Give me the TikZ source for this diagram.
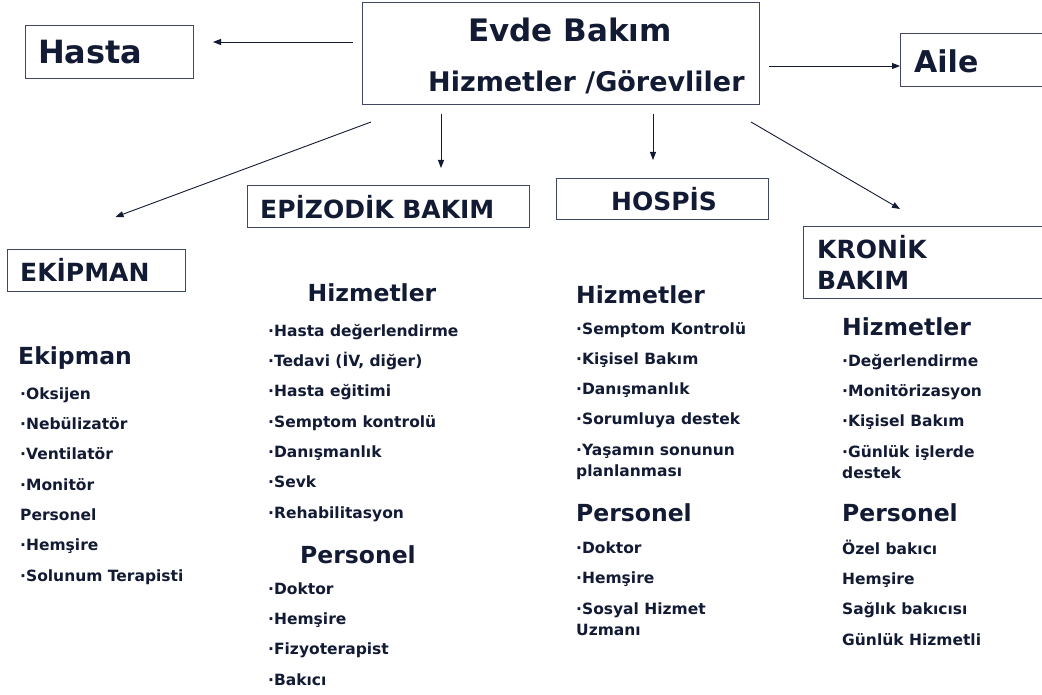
\documentclass[tikz,border=0pt]{standalone}
\usepackage{fontspec}
\setmainfont{DejaVu Sans}
\usetikzlibrary{arrows.meta}
\definecolor{ink}{RGB}{18,26,52}
\definecolor{frame}{RGB}{62,72,100}

\begin{document}
\begin{tikzpicture}[x=1pt, y=-1pt,
    box/.style = {draw=frame, line width=1pt, inner sep=0pt, anchor=north west},
    lab/.style = {text=ink, inner sep=0pt, anchor=west},
    big/.style = {lab, font=\fontsize{31}{36}\selectfont\bfseries},
    head/.style = {lab, font=\fontsize{25}{31}\selectfont\bfseries},
    sub/.style = {lab, font=\fontsize{23.5}{28}\selectfont\bfseries},
    items/.style = {text=ink, inner sep=0pt, anchor=base west, align=left, font=\fontsize{15.5}{30.3}\selectfont\bfseries},
    arr/.style = {draw=ink, line width=0.9pt, -{Triangle[length=8pt, width=6pt]}}]
            \useasboundingbox (0,0) rectangle (1042,695);

            \node[box, minimum width=397pt, minimum height=102pt] (evde) at (362,2) {};
            \node[box, minimum width=168pt, minimum height=53pt] (hasta) at (25,25) {};
            \node[box, minimum width=150pt, minimum height=53pt] (aile) at (900,33) {};
            \node[box, minimum width=282pt, minimum height=42pt] (epi) at (247,185) {};
            \node[box, minimum width=212pt, minimum height=41pt] (hosp) at (556,178) {};
            \node[box, minimum width=250pt, minimum height=72pt] (kron) at (803,226) {};
            \node[box, minimum width=178pt, minimum height=42pt] (ekip) at (7,249) {};

            \node[big, anchor=center] (evdet) at (570,30) {Evde Bakım};
            \node[sub, font=\fontsize{27}{32}\selectfont\bfseries] (gorev) at (428,82) {Hizmetler /Görevliler};
            \node[big, font=\fontsize{32}{36}\selectfont\bfseries] (hastat) at (38,52) {Hasta};
            \node[big, font=\fontsize{30}{36}\selectfont\bfseries] (ailet) at (914,61) {Aile};
            \node[head] (epit) at (260,207) {EPİZODİK BAKIM};
            \node[head, anchor=center] (hospt) at (664,199) {HOSPİS};
            \node[head, align=left] (kront) at (817,262) {KRONİK\\BAKIM};
            \node[head] (ekipt) at (20,270) {EKİPMAN};

            \draw[arr] ([shift={(-9,40)}]evde.north west) -- ([shift={(19,17)}]hasta.north east);
            \draw[arr] ([shift={(9,64)}]evde.north east) -- ([shift={(0,33)}]aile.north west);
            \draw[arr] ([shift={(9,17)}]evde.south west) -- ([shift={(19,-32)}]ekip.north);
            \draw[arr] ([shift={(79,9)}]evde.south west) -- ([shift={(194,-17)}]epi.north west);
            \draw[arr] ([shift={(291,9)}]evde.south west) -- ([shift={(97,-18)}]hosp.north west);
            \draw[arr] ([shift={(-9,17)}]evde.south east) -- ([shift={(97,-17)}]kron.north west);

            \node[sub] (ekiph) at (18,358) {Ekipman};
            \node[items] (ekipl) at (20,581) {·Oksijen\\·Nebülizatör\\·Ventilatör\\·Monitör\\Personel\\·Hemşire\\·Solunum Terapisti};

            \node[sub, anchor=center] (epih) at (372,293) {Hizmetler};
            \node[items] (epil) at (268,518) {·Hasta değerlendirme\\·Tedavi (İV, diğer)\\·Hasta eğitimi\\·Semptom kontrolü\\·Danışmanlık\\·Sevk\\·Rehabilitasyon};
            \node[sub, anchor=center] (epip) at (358,555) {Personel};
            \node[items] (epipl) at (268,685) {·Doktor\\·Hemşire\\·Fizyoterapist\\·Bakıcı};

            \node[sub] (hosph) at (576,295) {Hizmetler};
            \node[items] (hospl) at (576,476) {·Semptom Kontrolü\\·Kişisel Bakım\\·Danışmanlık\\·Sorumluya destek\\·Yaşamın sonunun\\[-9.5pt]planlanması};
            \node[sub] (hospp) at (576,513) {Personel};
            \node[items] (hosppl) at (576,635) {·Doktor\\·Hemşire\\·Sosyal Hizmet\\[-9.5pt]Uzmanı};

            \node[sub] (kronh) at (842,327) {Hizmetler};
            \node[items] (kronl) at (842,478) {·Değerlendirme\\·Monitörizasyon\\·Kişisel Bakım\\·Günlük işlerde\\[-9.5pt]destek};
            \node[sub] (kronp) at (842,513) {Personel};
            \node[items] (kronpl) at (842,645) {Özel bakıcı\\Hemşire\\Sağlık bakıcısı\\Günlük Hizmetli};
        \end{tikzpicture}
\end{document}
